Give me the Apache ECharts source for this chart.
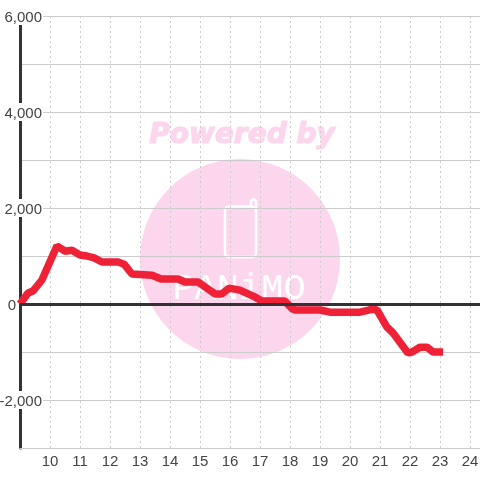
<!DOCTYPE html>
<html><head><meta charset="utf-8">
<script src="https://cdn.jsdelivr.net/npm/echarts@6/dist/echarts.min.js"></script>
<style>html,body{margin:0;padding:0;background:#fff}#c{width:480px;height:480px}</style>
</head><body><div id="c"></div>
<script>
const hours = [9,9.27,9.43,9.73,10.23,10.5,10.73,11,11.23,11.47,11.73,12.27,12.47,12.73,13.4,13.7,14.27,14.5,14.93,15.17,15.5,15.73,15.97,16.33,16.77,17.07,17.83,18.07,18.17,19,19.33,20.33,20.73,20.9,21.23,21.43,21.93,22.07,22.33,22.57,22.77,23.1];
const values = [0,230,270,500,1210,1100,1120,1020,1000,960,875,875,830,625,600,520,520,460,460,355,210,210,330,290,165,60,60,-100,-125,-125,-170,-170,-110,-125,-480,-600,-1020,-1000,-900,-900,-1000,-1000];
const hourLabels = [10,11,12,13,14,15,16,17,18,19,20,21,22,23,24];
const valueLabels = {'6000':'6,000','4000':'4,000','2000':'2,000','0':'0','-2000':'-2,000'};
const points = hours.map((h,i)=>[h,values[i]]);
const chart = echarts.init(document.getElementById('c'),null,{renderer:'canvas'});
const pink = '#fcd6ec';
chart.setOption({
  animation:false,
  grid:{left:20,right:0,top:16,bottom:32,containLabel:false,outerBoundsMode:'none'},
  graphic:[
    {type:'circle',z:-10,shape:{cx:240,cy:259,r:100},style:{fill:pink}},
    {type:'text',z:-9,x:242,y:136,style:{text:'Powered by',fill:pink,stroke:pink,lineWidth:1.2,font:'italic bold 28px "DejaVu Sans"',align:'center',verticalAlign:'middle'}},
    {type:'rect',z:-9,shape:{x:225,y:206.5,width:31,height:50.5,r:4},style:{fill:'none',stroke:'#fff',lineWidth:2.5}},
    {type:'polyline',z:-9,shape:{points:[[251,207],[251,201],[253.5,198.8],[256,201],[256,212]]},style:{fill:'none',stroke:'#fff',lineWidth:2.5}},
    {type:'text',z:-9,x:239,y:289,style:{text:'PANiMO',fill:'#fff',font:'37px "Liberation Mono"',align:'center',verticalAlign:'middle'}}
  ],
  xAxis:{type:'value',min:9,max:24.3333,interval:1,
    axisLine:{show:true,onZero:false,lineStyle:{color:'#ccc',width:1}},axisTick:{show:false},
    axisLabel:{color:'#444',fontSize:15,fontFamily:'"Liberation Sans"',margin:6,
      formatter:v=>hourLabels.includes(v)?String(v):''},
    splitLine:{show:true,lineStyle:{color:'#ccc',type:[2,3],width:1}}},
  yAxis:{type:'value',min:-3000,max:6000,interval:1000,
    axisLine:{show:true,onZero:false,lineStyle:{color:'#333',width:3}},axisTick:{show:false},
    axisLabel:{margin:-23,fontSize:15,fontFamily:'"Liberation Sans"',color:'#444',
      formatter:v=>{const t=valueLabels[String(v)];if(t===undefined)return '';return v===0?'{z|0}':'{a|'+t+'}';},
      rich:{a:{backgroundColor:'#fff',color:'#444',fontSize:15,fontFamily:'"Liberation Sans"',padding:[3,1,0,1]},
            z:{color:'#444',fontSize:15,fontFamily:'"Liberation Sans"',padding:[3,27,0,0]}}},
    splitLine:{show:true,lineStyle:{color:'#ccc',width:1}}},
  series:[
    {type:'line',silent:true,z:2,data:[],markLine:{silent:true,symbol:'none',label:{show:false},lineStyle:{color:'#333',width:3,type:'solid'},data:[{yAxis:0}]}},
    {type:'line',z:3,data:points,showSymbol:false,smooth:false,lineStyle:{color:'#ee2137',width:7.5,join:'bevel'}}
  ]
});
</script></body></html>
